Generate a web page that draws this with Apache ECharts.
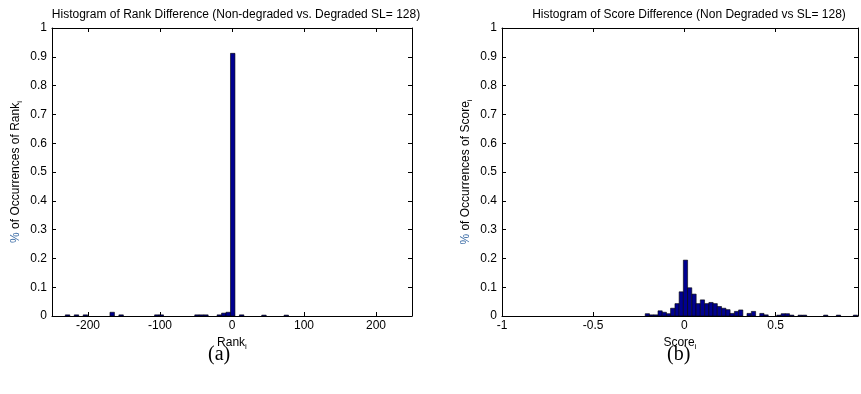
<!DOCTYPE html>
<html>
<head>
<meta charset="utf-8">
<script src="https://cdn.jsdelivr.net/npm/echarts@6/dist/echarts.min.js"></script>
<style>
  html, body { margin: 0; padding: 0; background: #fff; }
  #main { width: 861px; height: 394px; }
</style>
</head>
<body>
<div id="main"></div>
<script>
// (a) rank difference histogram: bin centres and % of occurrences
const rankBins = [-228.4, -216, -203.6, -166.4, -154, -104.4, -98.2, -48.6, -42.4, -36.2,
  -17.6, -11.4, -5.2, 1, 13.4, 44.4, 75.4];
const rankPct = [0.004, 0.004, 0.004, 0.013, 0.004, 0.004, 0.004, 0.004, 0.004, 0.004,
  0.004, 0.01, 0.013, 0.912, 0.004, 0.003, 0.003];
const rankBinWidth = 6.2;
const rankTicks = [-200, -100, 0, 100, 200];

// (b) score difference histogram
const scoreBins = [-0.203, -0.180, -0.157, -0.133, -0.110, -0.087, -0.064, -0.040, -0.017, 0.006,
  0.029, 0.053, 0.076, 0.099, 0.123, 0.146, 0.169, 0.192, 0.216, 0.239,
  0.262, 0.286, 0.309, 0.355, 0.379, 0.425, 0.448, 0.518, 0.542, 0.565,
  0.589, 0.635, 0.659, 0.775, 0.845, 0.938];
const scorePct = [0.008, 0.004, 0.004, 0.018, 0.013, 0.008, 0.027, 0.043, 0.084, 0.194,
  0.098, 0.076, 0.043, 0.056, 0.043, 0.047, 0.043, 0.033, 0.027, 0.022,
  0.009, 0.016, 0.021, 0.009, 0.016, 0.009, 0.004, 0.003, 0.008, 0.008,
  0.003, 0.003, 0.003, 0.003, 0.003, 0.003];
const scoreBinWidth = 0.0233;
const scoreTicks = [-1, -0.5, 0, 0.5];

const FONT = "Liberation Sans";
const BAR_FILL = "#00008f";

const chart = echarts.init(document.getElementById("main"));

function histSeries(bins, pct, width, axisIdx) {
  return {
    type: "custom",
    coordinateSystem: "cartesian2d",
    xAxisIndex: axisIdx,
    yAxisIndex: axisIdx,
    data: bins.map((b, i) => [b, pct[i]]),
    clip: true,
    renderItem: (params, api) => {
      const x = api.value(0);
      const h = api.value(1);
      const p0 = api.coord([x - width / 2, h]);
      const p1 = api.coord([x + width / 2, 0]);
      return {
        type: "rect",
        shape: { x: p0[0], y: p0[1], width: p1[0] - p0[0], height: p1[1] - p0[1] },
        style: { fill: BAR_FILL, stroke: "#000", lineWidth: 0.6 },
      };
    },
  };
}

const axisLine = { show: true, onZero: false, lineStyle: { color: "#000", width: 1 } };

function xAxes(grid, min, max, ticks, name) {
  return [
    {
      type: "value", gridIndex: grid, position: "bottom", min, max,
      axisLine,
      axisTick: { show: true, inside: true, length: 4, customValues: ticks, lineStyle: { color: "#000" } },
      axisLabel: { customValues: ticks, color: "#000", fontFamily: FONT, fontSize: 12, margin: 4 },
      splitLine: { show: false },
      name, nameLocation: "middle", nameGap: 19,
      nameTextStyle: {
        color: "#000", fontFamily: FONT, fontSize: 12,
        rich: { s: { fontSize: 8, fontFamily: FONT, color: "#000", verticalAlign: "bottom", padding: [8, 0, 0, 0] } },
      },
    },
    {
      type: "value", gridIndex: grid, position: "top", min, max,
      axisLine,
      axisTick: { show: true, inside: true, length: 4, customValues: ticks, lineStyle: { color: "#000" } },
      axisLabel: { show: false },
      splitLine: { show: false },
    },
  ];
}

function yAxes(grid, name) {
  return [
    {
      type: "value", gridIndex: grid, position: "left", min: 0, max: 1, interval: 0.1,
      axisLine,
      axisTick: { show: true, inside: true, length: 4, lineStyle: { color: "#000" } },
      axisLabel: { color: "#000", fontFamily: FONT, fontSize: 12, margin: 5 },
      splitLine: { show: false },
      name, nameLocation: "middle", nameGap: 28, nameRotate: 90,
      nameTextStyle: {
        color: "#000", fontFamily: FONT, fontSize: 12,
        rich: {
          p: { color: "#3f6fa8", fontFamily: FONT, fontSize: 12 },
          s: { fontSize: 8, fontFamily: FONT, color: "#000", verticalAlign: "bottom", padding: [8, 0, 0, 0] },
        },
      },
    },
    {
      type: "value", gridIndex: grid, position: "right", min: 0, max: 1, interval: 0.1,
      axisLine,
      axisTick: { show: true, inside: true, length: 4, lineStyle: { color: "#000" } },
      axisLabel: { show: false },
      splitLine: { show: false },
    },
  ];
}

const rankX = xAxes(0, -250, 250, rankTicks, "Rank{s|i}");
const scoreX = xAxes(1, -1, 0.952, scoreTicks, "Score{s|i}");
const rankY = yAxes(0, "{p|%} of Occurrences of Rank{s|i}");
const scoreY = yAxes(1, "{p|%} of Occurrences of Score{s|i}");

const options = {
  animation: false,
  backgroundColor: "#fff",
  title: [
    {
      text: "Histogram of Rank Difference (Non-degraded vs. Degraded SL= 128)",
      left: 231, top: 4, textAlign: "center",
      textStyle: { color: "#000", fontFamily: FONT, fontSize: 12, fontWeight: "normal" },
    },
    {
      text: "Histogram of Score Difference (Non Degraded vs SL= 128)",
      left: 684, top: 4, textAlign: "center",
      textStyle: { color: "#000", fontFamily: FONT, fontSize: 12, fontWeight: "normal" },
    },
  ],
  grid: [
    { left: 52, right: 449, top: 28, bottom: 78, show: false },
    { left: 502, right: 3, top: 28, bottom: 78, show: false },
  ],
  xAxis: [rankX[0], rankX[1], scoreX[0], scoreX[1]],
  yAxis: [rankY[0], rankY[1], scoreY[0], scoreY[1]],
  series: [
    histSeries(rankBins, rankPct, rankBinWidth, 0),
    histSeries(scoreBins, scorePct, scoreBinWidth, 2),
  ],
  graphic: [
    {
      type: "text", left: 208, top: 345,
      style: { text: "(a)", fill: "#000", font: "20px 'Liberation Serif'" },
    },
    {
      type: "text", left: 667, top: 345,
      style: { text: "(b)", fill: "#000", font: "20px 'Liberation Serif'" },
    },
  ],
};

chart.setOption(options);

window.addEventListener("resize", () => {
  chart.resize();
});
</script>
</body>
</html>
